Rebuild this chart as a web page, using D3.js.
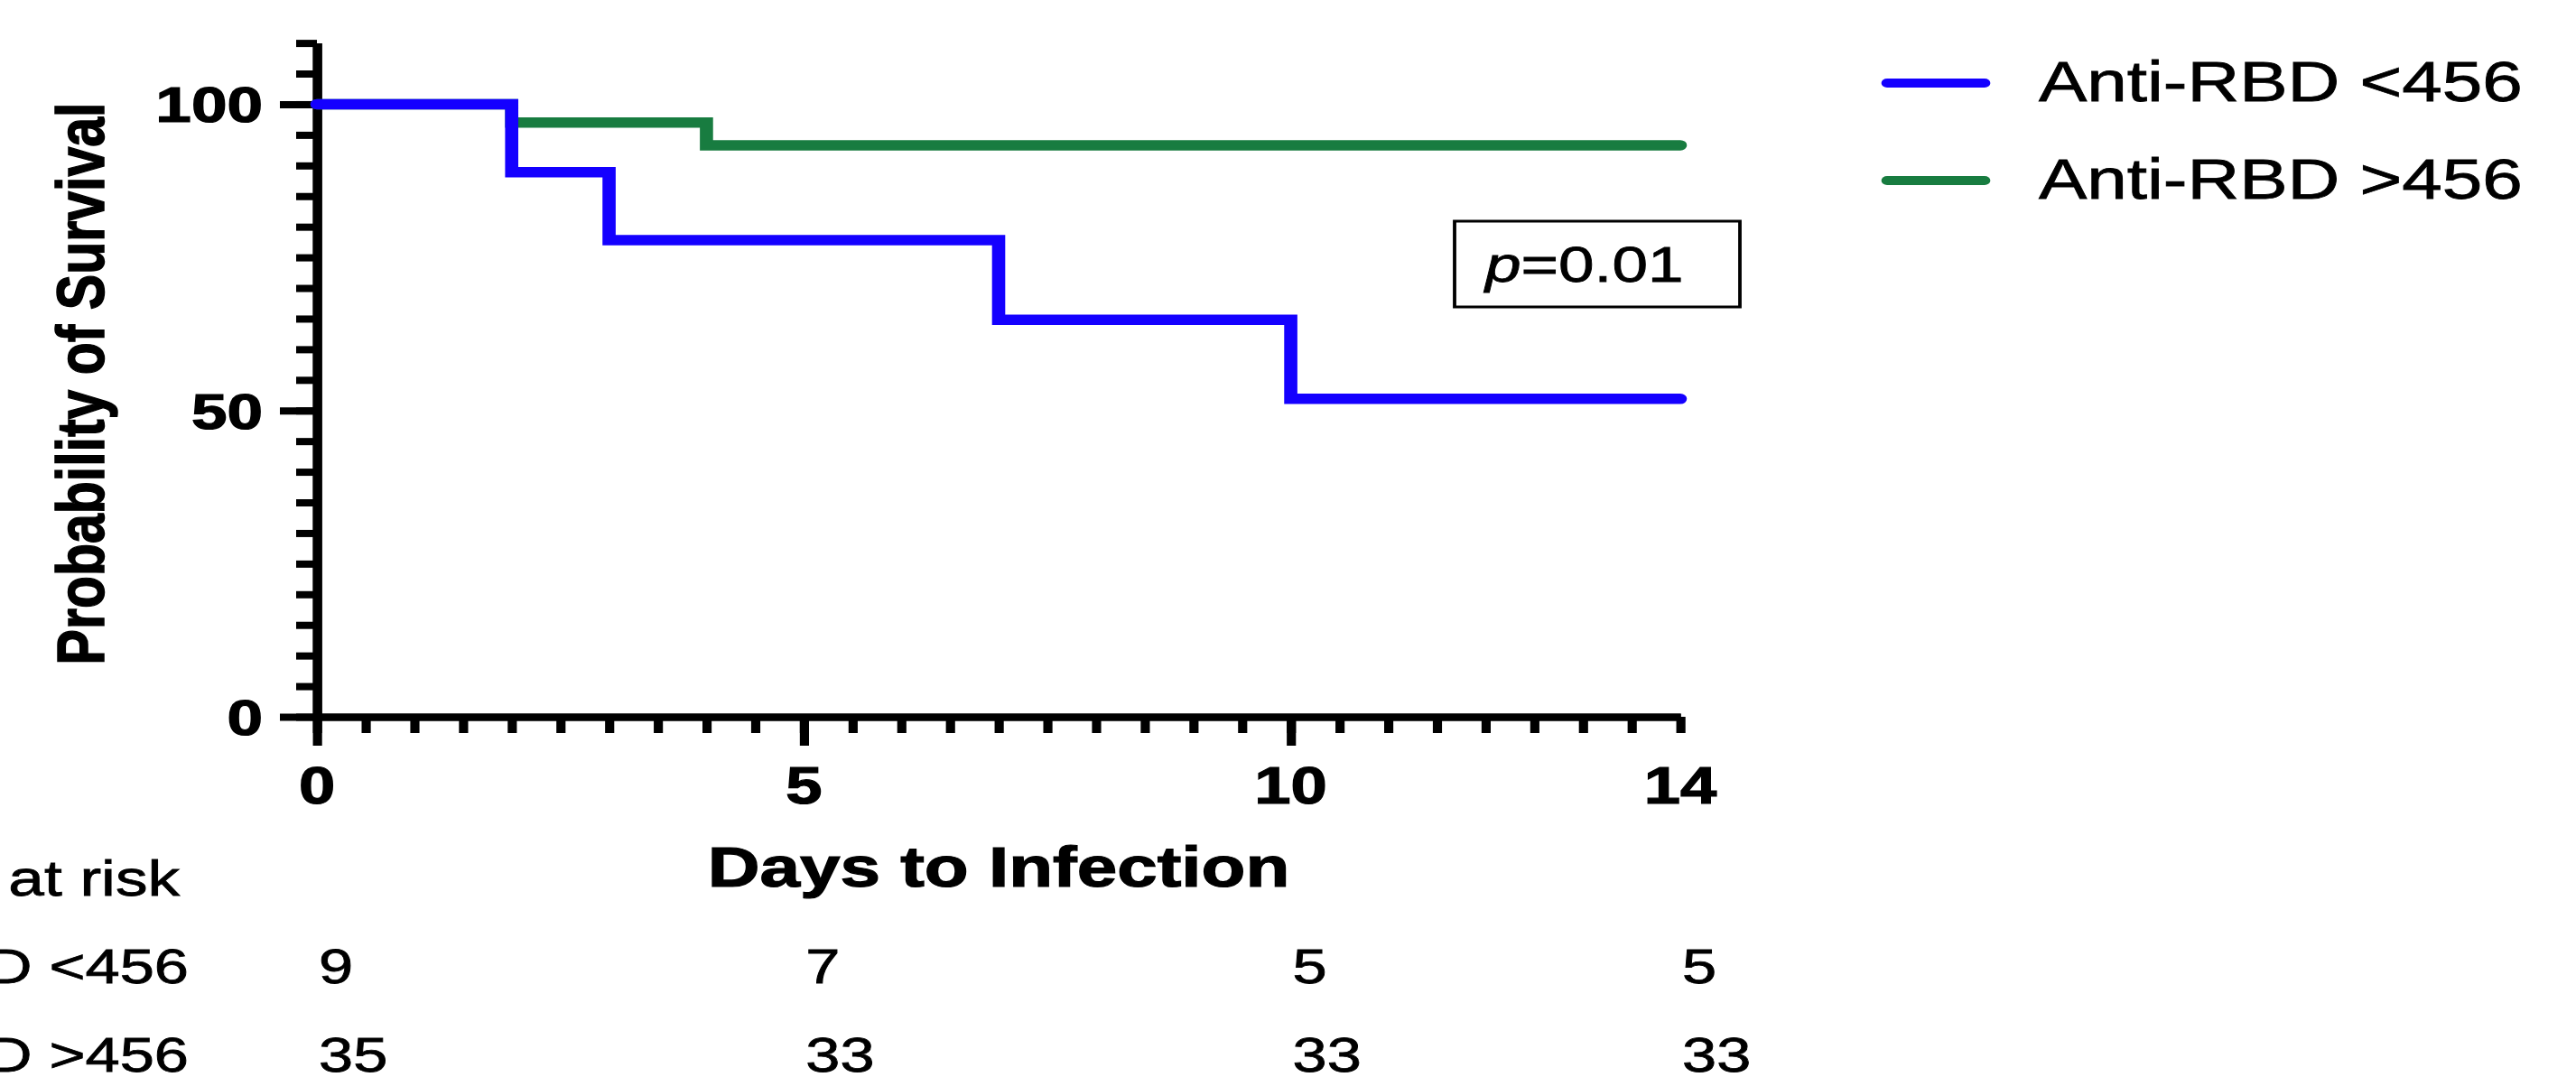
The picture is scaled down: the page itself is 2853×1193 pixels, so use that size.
<!DOCTYPE html>
<html>
<head>
<meta charset="utf-8">
<script src="https://cdn.jsdelivr.net/npm/d3@7"></script>
<style>
    body { margin: 0; background: #fff; }
    svg { display: block; }
</style>
</head>
<body>
<div id="chart"></div>
<script>
// data
var groups = ["Anti-RBD <456", "Anti-RBD >456"];
var colors = ["#1400ff", "#187c40"];
var blueDays = [0, 2, 3, 7, 10, 14];
var blueSurv = [100, 88.9, 77.8, 64.8, 51.9, 51.9];
var greenDays = [0, 2, 4, 14];
var greenSurv = [100, 97.0, 93.3, 93.3];
var xTicks = [0, 5, 10, 14];
var yTicks = [0, 50, 100];
var riskDays = [0, 5, 10, 14];
var riskBlue = [9, 7, 5, 5];
var riskGreen = [35, 33, 33, 33];
var pText = "=0.01";

var W = 2853, H = 1193;
var SX = 1.27; // whole figure is stretched sideways
var font = "'Liberation Sans', Arial, Helvetica, sans-serif";

function px(v) { return v / SX; }

var svg = d3.select("#chart").append("svg")
    .attr("width", W)
    .attr("height", H);

svg.append("rect").attr("width", W).attr("height", H).attr("fill", "#fff");

var g = svg.append("g").attr("transform", "scale(" + SX + ",1)");

var x = d3.scaleLinear().domain([0, 14]).range([px(351), px(1861)]);
var y = d3.scaleLinear().domain([0, 110]).range([794, 47.6]);

function addText(tx, ty, txt, size, weight, anchor, rot) {
    return g.append("text")
        .attr("transform", "translate(" + tx + "," + ty + ")" + (rot ? " rotate(" + rot + ")" : ""))
        .attr("text-anchor", anchor)
        .attr("font-family", font)
        .attr("font-size", size)
        .attr("font-weight", weight)
        .attr("fill", "#000")
        .attr("stroke", "#000")
        .attr("stroke-width", weight == "bold" ? 1.2 : 0.8)
        .text(txt);
}

// axes: minor + major ticks
var yMinor = d3.axisLeft(y).tickValues(d3.range(0, 111, 5)).tickSize(px(23)).tickSizeOuter(0).tickFormat("");
var yMajor = d3.axisLeft(y).tickValues(yTicks).tickSize(px(41)).tickSizeOuter(0).tickFormat("");
var xMinor = d3.axisBottom(x).tickValues(d3.range(0, 14.01, 0.5)).tickSize(18).tickSizeOuter(0).tickFormat("");
var xMajor = d3.axisBottom(x).tickValues([0, 5, 10]).tickSize(32).tickSizeOuter(0).tickFormat("");

[yMinor, yMajor].forEach(function (ax) {
    g.append("g").attr("class", "axis").attr("transform", "translate(" + x(0) + ",0)").call(ax);
});
[xMinor, xMajor].forEach(function (ax) {
    g.append("g").attr("class", "axis").attr("transform", "translate(0," + y(0) + ")").call(ax);
});
g.selectAll(".axis path, .axis line")
    .attr("stroke", "#000")
    .attr("stroke-width", 8);

// tick labels
yTicks.forEach(function (v) {
    addText(px(291), y(v) + 20, v, 56, "bold", "end");
});
xTicks.forEach(function (v) {
    addText(x(v), 890, v, 57, "bold", "middle");
});

// axis titles
addText(px(115), 425, "Probability of Survival", 59, "bold", "middle", -90);
addText((x(0) + x(14)) / 2, 982, "Days to Infection", 63, "bold", "middle");

// survival curves (blue drawn on top)
var line = d3.line()
    .x(function (d) { return x(d[0]); })
    .y(function (d) { return y(d[1]); })
    .curve(d3.curveStepAfter);

var curves = [d3.zip(greenDays, greenSurv), d3.zip(blueDays, blueSurv)];
var curveColors = [colors[1], colors[0]];

curves.forEach(function (pts, i) {
    g.append("path")
        .datum(pts)
        .attr("d", line)
        .attr("fill", "none")
        .attr("stroke", curveColors[i])
        .attr("stroke-width", 11.5)
        .attr("stroke-linejoin", "miter")
        .attr("stroke-linecap", "round");
});

// legend
var legendY = [92, 200];
groups.forEach(function (name, i) {
    g.append("line")
        .attr("x1", px(2090)).attr("x2", px(2198))
        .attr("y1", legendY[i]).attr("y2", legendY[i])
        .attr("stroke", colors[i])
        .attr("stroke-width", 10)
        .attr("stroke-linecap", "round");
    addText(px(2258), legendY[i] + 20, name, 63, "normal", "start");
});

// p value box
g.append("rect")
    .attr("x", px(1611)).attr("y", 245)
    .attr("width", px(316)).attr("height", 95)
    .attr("fill", "none")
    .attr("stroke", "#000")
    .attr("stroke-width", 3);
var pt = addText(px(1645), 312, "", 56, "normal", "start");
pt.append("tspan").attr("font-style", "italic").text("p");
pt.append("tspan").text(pText);

// number at risk table
addText(px(199), 992, "Number at risk", 56, "normal", "end");
var rowY = [1089, 1187];
var rows = [riskBlue, riskGreen];
groups.forEach(function (name, i) {
    addText(px(209), rowY[i], name, 54, "normal", "end");
    rows[i].forEach(function (n, j) {
        addText(x(riskDays[j]) + px(2), rowY[i], n, 54, "normal", "start");
    });
});
</script>
</body>
</html>
